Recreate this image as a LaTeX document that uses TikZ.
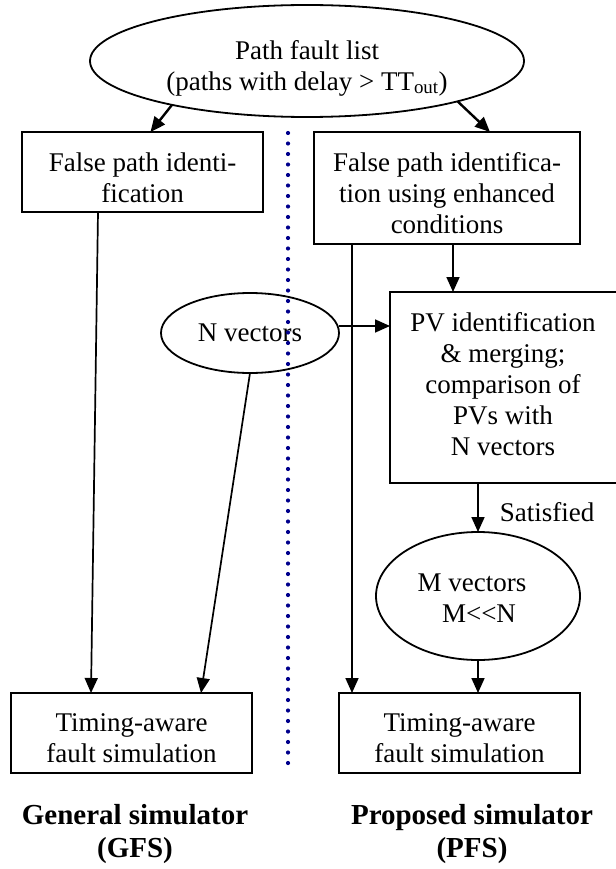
\documentclass[tikz,border=0pt]{standalone}
\usepackage{fontspec}
\setmainfont{Liberation Serif}
\usetikzlibrary{shapes.geometric,arrows.meta,calc}
\definecolor{dotblue}{RGB}{0,0,140}
\begin{document}
\begin{tikzpicture}[x=1pt,y=-1pt,
  every node/.style={font=\fontsize{27}{31}\selectfont, align=center, inner sep=0pt, outer sep=0pt},
  boxnode/.style={draw, line width=1.8pt, rectangle},
  ellnode/.style={draw, line width=1.8pt, ellipse},
  arr/.style={line width=1.7pt, -{Triangle[length=15pt,width=13pt]}},
  thickarr/.style={line width=2.4pt, -{Triangle[length=15pt,width=13pt]}},
  caption/.style={font=\fontsize{29}{33}\selectfont\bfseries}
]
\useasboundingbox (0,0) rectangle (615,869);

% nodes
\node[ellnode, minimum width=434pt, minimum height=112pt] (pfl) at (307,61) {};
\node (pfltext) at (307,68) {Path fault list\\(paths with delay > TT\textsubscript{out})};

\node[boxnode, minimum width=241pt, minimum height=80pt] (lb) at (142.5,172) {};
\node (lbtext) at (142.5,178) {False path identi-\\fication};

\node[boxnode, minimum width=266pt, minimum height=112pt] (rb) at (447,188) {};
\node (rbtext) at (447,193) {False path identifica-\\tion using enhanced\\conditions};

\node[ellnode, minimum width=178pt, minimum height=80pt] (nv) at (250,333) {N vectors};

\node[boxnode, minimum width=228pt, minimum height=191pt] (pv) at (504,387.5) {};
\node (pvtext) at (503,384) {PV identification\\\& merging;\\comparison of\\PVs with\\N vectors};

\node (sat) at (547,512) {Satisfied};

\node[ellnode, minimum width=204pt, minimum height=128pt] (mv) at (478,596) {};
\node (mvtext) at (472,598) {M vectors\\\hspace*{14pt}M<{}<N};

\node[boxnode, minimum width=241pt, minimum height=80pt] (blb) at (131.5,733) {};
\node (blbtext) at (131.5,738) {Timing-aware\\fault simulation};

\node[boxnode, minimum width=241pt, minimum height=80pt] (brb) at (459.5,733) {};
\node (brbtext) at (459.5,738) {Timing-aware\\fault simulation};

\node[caption] (gfs) at (135,834) {General simulator\\(GFS)};
\node[caption] (pfs) at (472,834) {Proposed simulator\\(PFS)};

% dotted divider
\foreach \k in {0,...,60} {
  \fill[dotblue] (288,133+10.5*\k) circle (2.1pt);
}

% connectors
\draw[thickarr] (pfl.198) -- ([xshift=8pt]lb.north);
\draw[thickarr] (pfl.345) -- ([xshift=43pt]rb.north);

\draw[arr] ([xshift=-44.5pt]lb.south) -- ([xshift=-40.5pt]blb.north);
\draw[arr] (nv.south) -- ([xshift=69.5pt]blb.north);

\draw[arr] ([xshift=-95pt]rb.south) -- ([xshift=-107.5pt]brb.north);
\draw[arr] ([xshift=6pt]rb.south) -- ([xshift=-51pt]pv.north);
\draw[arr] ([yshift=7pt]nv.east) -- ([yshift=7pt]nv.east -| pv.west);
\draw[arr] ([xshift=-26pt]pv.south) -- (mv.north);
\draw[arr] (mv.south) -- ([xshift=18.5pt]brb.north);
\end{tikzpicture}
\end{document}
